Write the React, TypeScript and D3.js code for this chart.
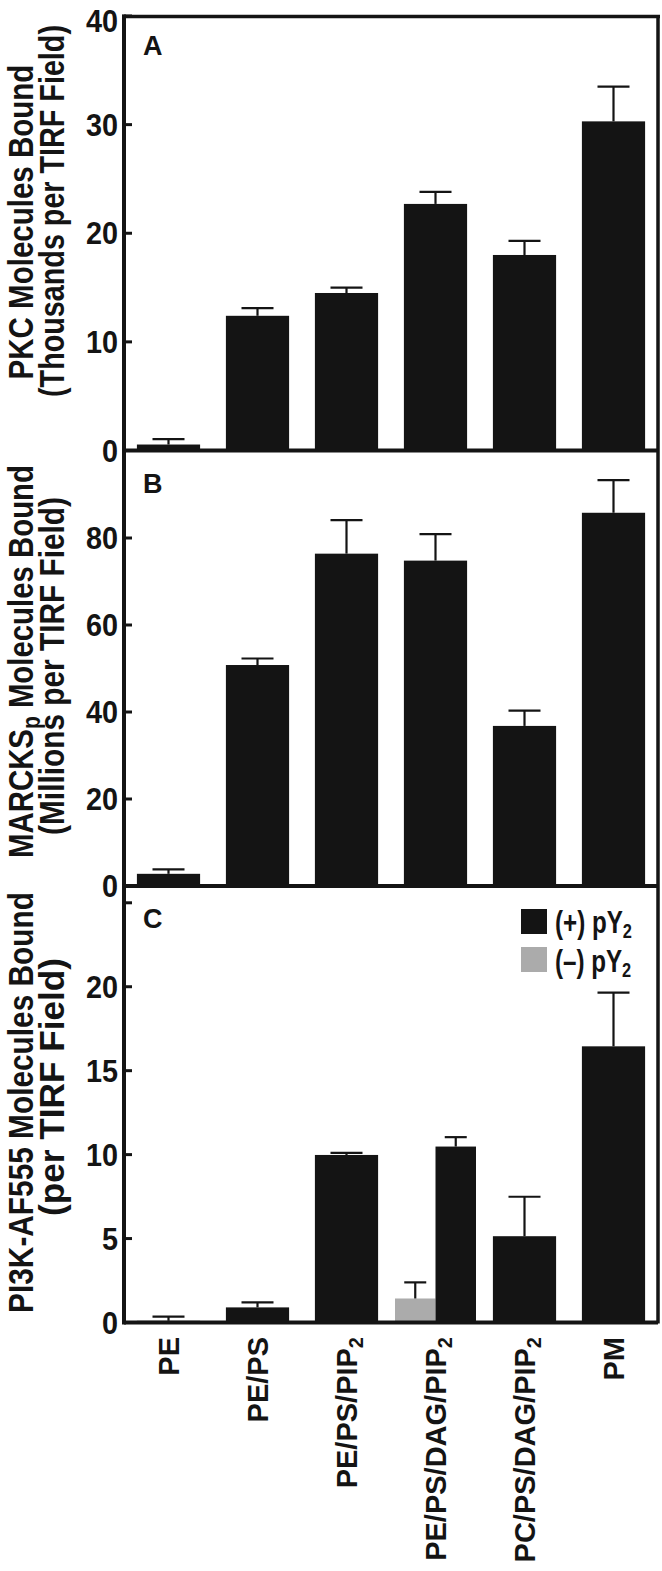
import React, { useLayoutEffect, useRef, useState } from "react";
import * as d3 from "d3";

// ---------- data ----------
const categories = ["PE", "PE/PS", "PE/PS/PIP2", "PE/PS/DAG/PIP2", "PC/PS/DAG/PIP2", "PM"];
const categoryMain = ["PE", "PE/PS", "PE/PS/PIP", "PE/PS/DAG/PIP", "PC/PS/DAG/PIP", "PM"];
const categorySub = ["", "", "2", "2", "2", ""];

const pkcMean = [0.55, 12.4, 14.5, 22.7, 18.0, 30.3];
const pkcErr = [0.5, 0.7, 0.5, 1.1, 1.3, 3.2];

const marcksMean = [2.8, 50.8, 76.4, 74.8, 36.8, 85.8];
const marcksErr = [1.0, 1.5, 7.7, 6.1, 3.5, 7.5];

const pi3kPlusMean = [0.1, 0.9, 9.98, 10.48, 5.14, 16.45];
const pi3kPlusErr = [0.25, 0.3, 0.12, 0.56, 2.35, 3.2];
const pi3kMinusMean: (number | null)[] = [null, null, null, 1.43, null, null];
const pi3kMinusErr: (number | null)[] = [null, null, null, 0.96, null, null];

const ticksA = [0, 10, 20, 30, 40];
const ticksB = [0, 20, 40, 60, 80];
const ticksC = [0, 5, 10, 15, 20, 25];
const tickLabelsC = ["0", "5", "10", "15", "20", ""];

const legendLabels = ["(+) pY", "(\u2013) pY"];

// ---------- style / layout ----------
const FONT = "'Liberation Sans', Arial, Helvetica, sans-serif";
const INK = "#141414";
const GRAY = "#ababab";
const W = 662;
const H = 1571;
const LEFT = 124;
const RIGHT = 658;

type TitleLine = { parts: [string, boolean][]; cx: number; cy: number; len: number };
type Panel = {
  letter: string;
  top: number;
  bottom: number;
  max: number;
  ticks: number[];
  tickLabels: string[];
  mean: number[];
  err: number[];
  minusMean?: (number | null)[];
  minusErr?: (number | null)[];
  letterY: number;
  title: TitleLine[];
};

const panels: Panel[] = [
  {
    letter: "A",
    top: 16,
    bottom: 450.5,
    max: 40,
    ticks: ticksA,
    tickLabels: ticksA.map(String),
    mean: pkcMean,
    err: pkcErr,
    letterY: 55,
    title: [
      { parts: [["PKC Molecules Bound", false]], cx: 33, cy: 222, len: 315 },
      { parts: [["(Thousands per TIRF Field)", false]], cx: 64, cy: 211, len: 372 },
    ],
  },
  {
    letter: "B",
    top: 451,
    bottom: 886,
    max: 100,
    ticks: ticksB,
    tickLabels: ticksB.map(String),
    mean: marcksMean,
    err: marcksErr,
    letterY: 493,
    title: [
      {
        parts: [
          ["MARCKS", false],
          ["p", true],
          [" Molecules Bound", false],
        ],
        cx: 33,
        cy: 661.5,
        len: 393,
      },
      { parts: [["(Millions per TIRF Field)", false]], cx: 64, cy: 666, len: 338 },
    ],
  },
  {
    letter: "C",
    top: 886,
    bottom: 1322.5,
    max: 26,
    ticks: ticksC,
    tickLabels: tickLabelsC,
    mean: pi3kPlusMean,
    err: pi3kPlusErr,
    minusMean: pi3kMinusMean,
    minusErr: pi3kMinusErr,
    letterY: 928,
    title: [
      { parts: [["PI3K-AF555 Molecules Bound", false]], cx: 33, cy: 1102.5, len: 421 },
      { parts: [["(per TIRF Field)", false]], cx: 64, cy: 1087, len: 258 },
    ],
  },
];

const x = d3
  .scaleBand<string>()
  .domain(categories)
  .range([LEFT, RIGHT])
  .paddingInner(0.29)
  .paddingOuter(0.145);

function ErrorBar({ cx, y0, y1, cap }: { cx: number; y0: number; y1: number; cap: number }) {
  return (
    <g stroke={INK} strokeWidth={2.2}>
      <line x1={cx} x2={cx} y1={y0} y2={y1} />
      <line x1={cx - cap / 2} x2={cx + cap / 2} y1={y1} y2={y1} />
    </g>
  );
}

function TitleText({ ln }: { ln: TitleLine }) {
  const ref = useRef<SVGTextElement>(null);
  const [sx, setSx] = useState(1);
  useLayoutEffect(() => {
    if (ref.current) {
      const w = ref.current.getComputedTextLength();
      if (w > 0) setSx(ln.len / w);
    }
  }, [ln.len]);
  return (
    <text
      ref={ref}
      transform={`translate(${ln.cx},${ln.cy}) rotate(-90) scale(${sx},1)`}
      textAnchor="middle"
      fontSize={35}
      fontWeight="bold"
      fontFamily={FONT}
      fill={INK}
    >
      {ln.parts.map(([s, sub], j) =>
        sub ? (
          <tspan key={j} fontSize={25} dy={7}>
            {s}
          </tspan>
        ) : (
          <tspan key={j} dy={j > 0 ? -7 : 0}>
            {s}
          </tspan>
        )
      )}
    </text>
  );
}

function PanelView({ p }: { p: Panel }) {
  const y = d3.scaleLinear().domain([0, p.max]).range([p.bottom, p.top]);
  const bw = x.bandwidth();
  const marks: React.ReactNode[] = [];
  categories.forEach((c, i) => {
    const bx = x(c)!;
    const center = bx + bw / 2;
    const m = p.minusMean ? p.minusMean[i] : null;
    if (m != null && p.minusErr) {
      const inner = d3
        .scaleBand<string>()
        .domain(["minus", "plus"])
        .range([center - 40.5, center + 40.5])
        .padding(0);
      const iw = inner.bandwidth();
      const gx = inner("minus")!;
      const px = inner("plus")!;
      marks.push(
        <rect key={`m${i}`} x={gx} y={y(m)} width={iw} height={y(0) - y(m)} fill={GRAY} />,
        <ErrorBar key={`me${i}`} cx={gx + iw / 2} y0={y(m)} y1={y(m + p.minusErr[i]!)} cap={22} />,
        <rect key={`p${i}`} x={px} y={y(p.mean[i])} width={iw} height={y(0) - y(p.mean[i])} fill={INK} />,
        <ErrorBar key={`pe${i}`} cx={px + iw / 2} y0={y(p.mean[i])} y1={y(p.mean[i] + p.err[i])} cap={22} />
      );
    } else {
      marks.push(
        <rect key={`b${i}`} x={bx} y={y(p.mean[i])} width={bw} height={y(0) - y(p.mean[i])} fill={INK} />,
        <ErrorBar key={`e${i}`} cx={center} y0={y(p.mean[i])} y1={y(p.mean[i] + p.err[i])} cap={32} />
      );
    }
  });

  return (
    <g>
      {marks}
      <line x1={LEFT} x2={RIGHT} y1={y(0)} y2={y(0)} stroke={INK} strokeWidth={4} />
      {p.ticks.map((t) => (
        <line key={`t${t}`} x1={LEFT} x2={LEFT + 8} y1={y(t)} y2={y(t)} stroke={INK} strokeWidth={3} />
      ))}
      {p.ticks.map((t, i) => (
        <text
          key={`tl${t}`}
          transform={`translate(118,${Math.max(y(t), 21)}) scale(0.93,1)`}
          textAnchor="end"
          dy="0.36em"
          fontSize={31}
          fontWeight="bold"
          fontFamily={FONT}
          fill={INK}
        >
          {p.tickLabels[i]}
        </text>
      ))}
      <text x={143} y={p.letterY} fontSize={27} fontWeight="bold" fontFamily={FONT} fill={INK}>
        {p.letter}
      </text>
      {p.title.map((ln, k) => (
        <TitleText key={`ti${k}`} ln={ln} />
      ))}
    </g>
  );
}

export default function App() {
  const last = panels[panels.length - 1];
  return (
    <svg
      width={W}
      height={H}
      viewBox={`0 0 ${W} ${H}`}
      style={{ position: "absolute", left: 0, top: 0, background: "#fff" }}
    >
      <rect x={0} y={0} width={W} height={H} fill="#fff" />
      {panels.map((p) => (
        <PanelView key={p.letter} p={p} />
      ))}
      <line x1={LEFT} x2={LEFT} y1={14.5} y2={last.bottom + 2} stroke={INK} strokeWidth={4} />
      <line x1={LEFT - 2} x2={RIGHT + 2} y1={16.5} y2={16.5} stroke={INK} strokeWidth={3.5} />
      <line x1={RIGHT} x2={RIGHT} y1={15} y2={last.bottom + 1} stroke={INK} strokeWidth={3.5} />
      {legendLabels.map((lab, i) => (
        <g key={lab}>
          <rect x={521} y={909 + i * 38} width={26} height={25} fill={i === 0 ? INK : GRAY} />
          <text
            transform={`translate(555,${933 + i * 38.5}) scale(0.78,1)`}
            fontSize={31}
            fontWeight="bold"
            fontFamily={FONT}
            fill={INK}
          >
            {lab}
            <tspan fontSize={21} dy={5}>
              2
            </tspan>
          </text>
        </g>
      ))}
      {categories.map((c, i) => (
        <text
          key={c}
          transform={`translate(${x(c)! + x.bandwidth() / 2 + 10},1337) rotate(-90)`}
          textAnchor="end"
          fontSize={29}
          fontWeight="bold"
          fontFamily={FONT}
          fill={INK}
        >
          {categoryMain[i]}
          {categorySub[i] ? (
            <tspan fontSize={20} dy={6}>
              {categorySub[i]}
            </tspan>
          ) : null}
        </text>
      ))}
    </svg>
  );
}
